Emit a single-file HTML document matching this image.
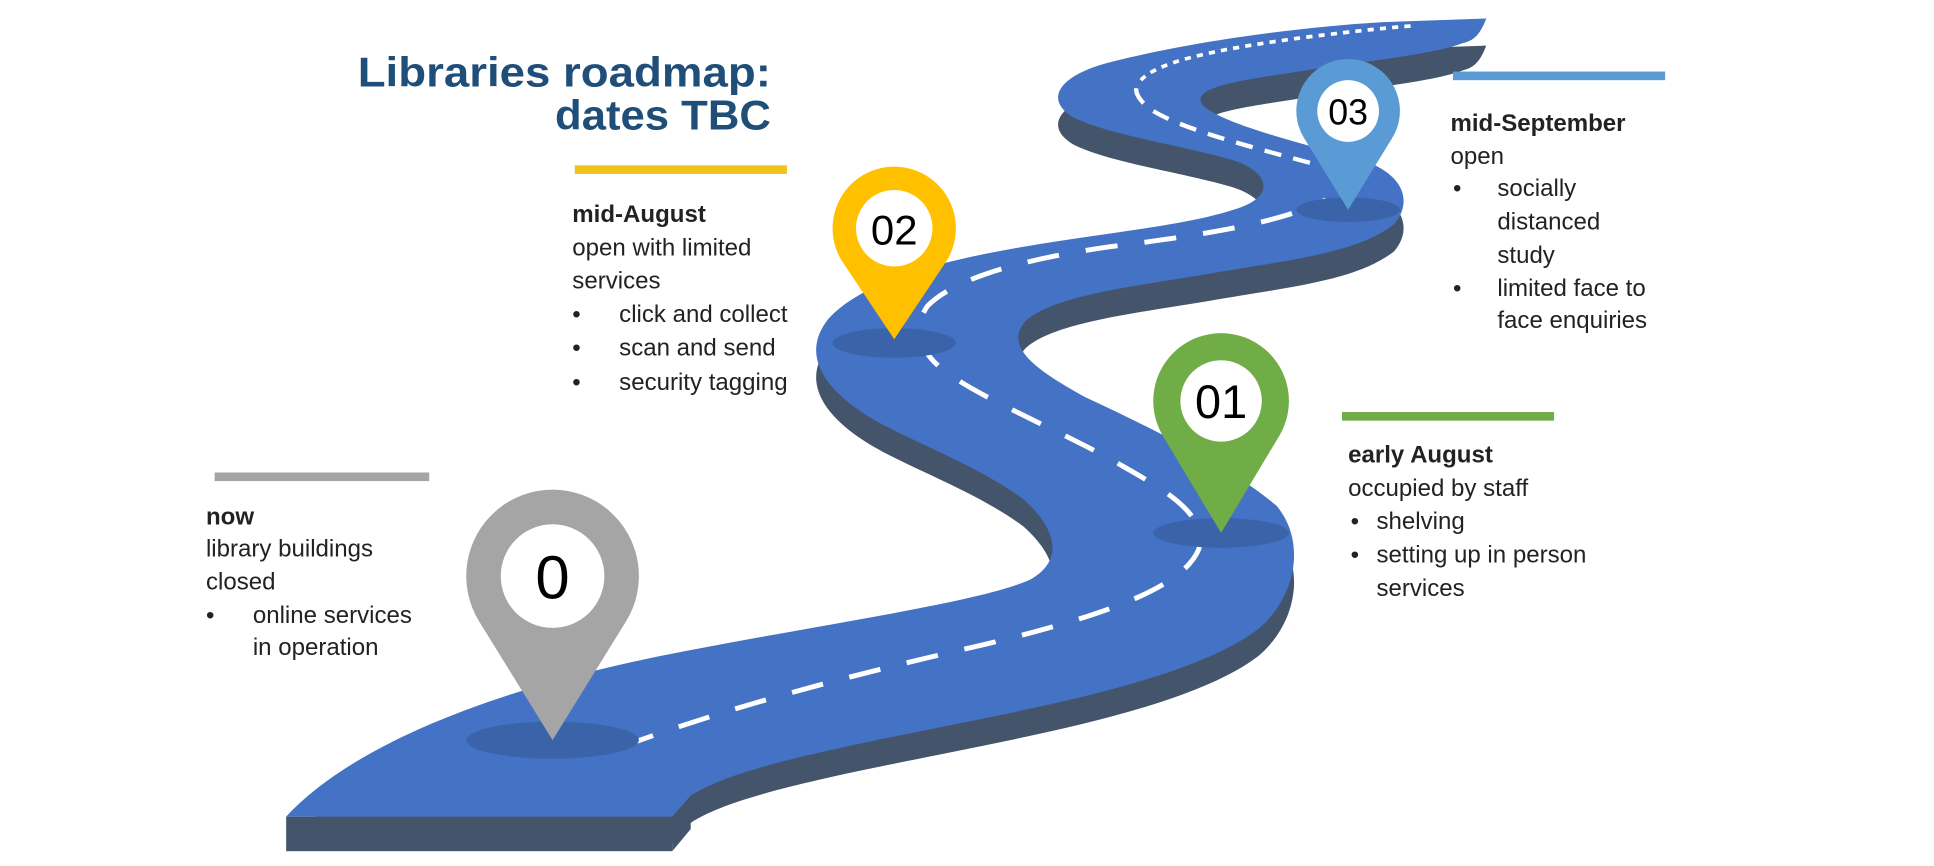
<!DOCTYPE html>
<html><head><meta charset="utf-8"><style>
html,body{margin:0;padding:0;background:#fff;}
svg{display:block;}
text{font-family:"Liberation Sans",sans-serif;}
</style></head><body>
<svg width="1934" height="866" viewBox="0 0 1568 702" preserveAspectRatio="none" xmlns="http://www.w3.org/2000/svg">
<rect width="1568" height="702" fill="#fff"/>
<defs>
<path id="road" d="M232,662 C280,610 380,565 520,535 C650,508 790,490 835,470 C862,455 858,430 830,405 C790,375 730,355 700,335 C665,312 650,285 672,258 C700,228 760,212 830,200 C900,188 960,183 1000,170 C1035,160 1030,140 1000,130 C960,118 900,110 870,95 C845,80 860,60 902,50 C960,35 1050,22 1120,18 L1205,15 C1200,28 1195,33 1186,35 C1160,45 1100,50 1040,60 C1000,66 965,72 975,85 C990,100 1050,115 1105,130 C1140,142 1145,165 1130,182 C1100,205 1050,210 980,222 C920,232 850,240 830,262 C815,282 840,300 880,322 C940,350 1000,380 1035,410 C1060,440 1050,485 1020,510 C970,548 860,570 760,590 C660,610 590,625 560,645 L545,662 Z"/>
</defs>
<use href="#road" transform="translate(0,22)" fill="#44546a"/>
<rect x="232" y="662" width="313" height="28" fill="#44546a"/>
<polygon points="545,662 560,645 560,672 545,690" fill="#44546a"/>
<use href="#road" fill="#4472c4"/>
<path d="M505,605 C600,570 700,545 800,522 C900,498 960,475 972,445 C980,415 940,395 900,372 C850,345 790,320 765,300 C745,285 740,265 752,248 C775,225 830,210 900,200 C980,190 1040,180 1075,162" fill="none" stroke="#fff" stroke-width="4" stroke-dasharray="26 22"/>
<path d="M1062,132 C1010,118 960,105 935,90 C920,80 918,70 925,65" fill="none" stroke="#fff" stroke-width="3.5" stroke-dasharray="14 10"/>
<path d="M925,65 C940,48 1000,38 1060,30 C1100,25 1130,22 1145,21" fill="none" stroke="#fff" stroke-width="3" stroke-dasharray="5 5"/>

<ellipse cx="448" cy="600" rx="70" ry="15" fill="#3b63aa"/>
<ellipse cx="725" cy="278" rx="50" ry="12" fill="#3b63aa"/>
<ellipse cx="990" cy="432" rx="55" ry="12" fill="#3b63aa"/>
<ellipse cx="1093" cy="170" rx="42" ry="10" fill="#3b63aa"/>

<path d="M448,600 L388.5,503.8 A70 70 0 1 1 507.5,503.8 Z" fill="#a5a5a5"/>
<circle cx="448" cy="467" r="42" fill="#fff"/>
<text x="448" y="485" font-size="50" text-anchor="middle" fill="#000">0</text>

<path d="M725,275 L683.4,212.8 A50 50 0 1 1 766.6,212.8 Z" fill="#ffc000"/>
<circle cx="725" cy="185" r="31" fill="#fff"/>
<text x="725" y="198" font-size="34" text-anchor="middle" fill="#000">02</text>

<path d="M990,432 L942.8,353.3 A55 55 0 1 1 1037.2,353.3 Z" fill="#70ad47"/>
<circle cx="990" cy="325" r="33" fill="#fff"/>
<text x="990" y="339" font-size="38" text-anchor="middle" fill="#000">01</text>

<path d="M1093,170 L1057.3,112 A42 42 0 1 1 1128.7,112 Z" fill="#5b9bd5"/>
<circle cx="1093" cy="90" r="25" fill="#fff"/>
<text x="1093" y="101" font-size="29" text-anchor="middle" fill="#000">03</text>

<text x="625" y="70" font-size="34" font-weight="bold" text-anchor="end" fill="#1f4e79" textLength="335" lengthAdjust="spacingAndGlyphs">Libraries roadmap:</text>
<text x="625" y="105" font-size="34" font-weight="bold" text-anchor="end" fill="#1f4e79" textLength="175" lengthAdjust="spacingAndGlyphs">dates TBC</text>

<rect x="466" y="134" width="172" height="7" fill="#f2c21c"/>
<rect x="174" y="383" width="174" height="7" fill="#a5a5a5"/>
<rect x="1088" y="334" width="172" height="7" fill="#70ad47"/>
<rect x="1178" y="58" width="172" height="7" fill="#5b9bd5"/>

<g font-size="19.5" fill="#222">
<text x="464" y="180" font-weight="bold">mid-August</text>
<text x="464" y="207">open with limited</text>
<text x="464" y="234">services</text>
<text x="464" y="261">•</text><text x="502" y="261">click and collect</text>
<text x="464" y="288">•</text><text x="502" y="288">scan and send</text>
<text x="464" y="316">•</text><text x="502" y="316">security tagging</text>

<text x="167" y="425" font-weight="bold">now</text>
<text x="167" y="451">library buildings</text>
<text x="167" y="478">closed</text>
<text x="167" y="505">•</text><text x="205" y="505">online services</text>
<text x="205" y="531">in operation</text>

<text x="1093" y="375" font-weight="bold">early August</text>
<text x="1093" y="402">occupied by staff</text>
<text x="1095" y="429">•</text><text x="1116" y="429">shelving</text>
<text x="1095" y="456">•</text><text x="1116" y="456">setting up in person</text>
<text x="1116" y="483">services</text>

<text x="1176" y="106" font-weight="bold">mid-September</text>
<text x="1176" y="133">open</text>
<text x="1178" y="159">•</text><text x="1214" y="159">socially</text>
<text x="1214" y="186">distanced</text>
<text x="1214" y="213">study</text>
<text x="1178" y="240">•</text><text x="1214" y="240">limited face to</text>
<text x="1214" y="266">face enquiries</text>
</g>
</svg>
</body></html>
